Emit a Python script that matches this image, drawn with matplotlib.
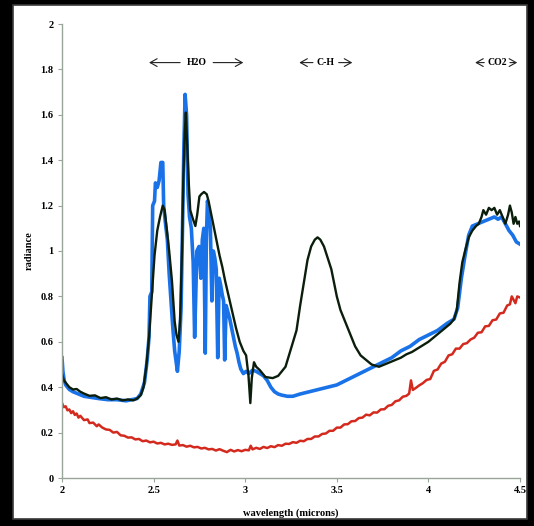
import matplotlib
matplotlib.use("Agg")
import matplotlib.pyplot as plt
from matplotlib.patches import Rectangle

# spectrum 1 (blue)
wl_blue = [2.000, 2.005, 2.012, 2.02, 2.04, 2.06, 2.09, 2.12, 2.16, 2.20, 2.25, 2.30, 2.35, 2.38,
           2.41, 2.43, 2.45, 2.465, 2.475, 2.48, 2.49, 2.495, 2.505, 2.51, 2.52, 2.53, 2.54, 2.55,
           2.555, 2.565, 2.575, 2.585, 2.595, 2.605, 2.615, 2.625, 2.63, 2.64, 2.65, 2.66, 2.665,
           2.672, 2.68, 2.688, 2.696, 2.706, 2.716, 2.724, 2.730, 2.736, 2.748, 2.758, 2.766, 2.774,
           2.782, 2.788, 2.794, 2.802, 2.810, 2.818, 2.826, 2.834, 2.842, 2.850, 2.858, 2.866, 2.874,
           2.882, 2.888, 2.896, 2.906, 2.916, 2.926, 2.936, 2.946, 2.956, 2.966, 2.976, 2.990, 3.005,
           3.02, 3.04, 3.06, 3.08, 3.10, 3.12, 3.14, 3.16, 3.18, 3.20, 3.23, 3.26, 3.30, 3.35, 3.40,
           3.45, 3.50, 3.55, 3.60, 3.65, 3.70, 3.75, 3.80, 3.85, 3.90, 3.95, 4.00, 4.05, 4.10, 4.14,
           4.16, 4.18, 4.20, 4.22, 4.24, 4.27, 4.30, 4.33, 4.36, 4.38, 4.40, 4.42, 4.44, 4.46, 4.48,
           4.50]
rad_blue = [0.53, 0.47, 0.43, 0.41, 0.39, 0.38, 0.37, 0.36, 0.355, 0.35, 0.345, 0.345, 0.34, 0.345,
            0.35, 0.37, 0.42, 0.52, 0.62, 0.80, 0.82, 1.20, 1.22, 1.30, 1.28, 1.31, 1.39, 1.39,
            1.20, 1.12, 1.05, 0.90, 0.78, 0.66, 0.56, 0.50, 0.47, 0.56, 0.75, 1.20, 1.45,
            1.69, 1.60, 1.25, 1.15, 1.10, 0.95, 0.62, 0.80, 1.00, 1.02, 0.88, 1.05, 1.10,
            0.55, 1.05, 1.22, 1.18, 1.10, 0.78, 1.00, 0.97, 0.92, 0.53, 0.88, 0.85, 0.81,
            0.78, 0.52, 0.76, 0.73, 0.70, 0.66, 0.62, 0.58, 0.55, 0.51, 0.48, 0.46, 0.47,
            0.46, 0.475, 0.47, 0.46, 0.45, 0.43, 0.40, 0.38, 0.37, 0.365, 0.36, 0.36, 0.37, 0.38, 0.39,
            0.40, 0.41, 0.43, 0.45, 0.47, 0.49, 0.51, 0.53, 0.56, 0.58, 0.61, 0.63, 0.65, 0.68, 0.70,
            0.75, 0.88, 0.98, 1.07, 1.11, 1.12, 1.13, 1.14, 1.15, 1.14, 1.15, 1.12, 1.09, 1.07, 1.04,
            1.03]

# spectrum 2 (black)
wl_black = [2.000, 2.01, 2.02, 2.04, 2.06, 2.08, 2.10, 2.12, 2.15, 2.18, 2.21, 2.24, 2.27, 2.30,
            2.33, 2.36, 2.39, 2.41, 2.43, 2.445, 2.46, 2.475, 2.49, 2.505, 2.52, 2.535, 2.55, 2.56,
            2.57, 2.585, 2.60, 2.615, 2.625, 2.636, 2.645, 2.655, 2.662, 2.67, 2.676, 2.684, 2.692,
            2.70, 2.715, 2.728, 2.738, 2.75, 2.76, 2.775, 2.79, 2.80, 2.815, 2.83, 2.845, 2.86, 2.875,
            2.89, 2.91, 2.93, 2.95, 2.97, 2.99, 3.005, 3.018, 3.028, 3.036, 3.048, 3.06, 3.08, 3.11,
            3.15, 3.18, 3.20, 3.22, 3.25, 3.28, 3.30, 3.32, 3.34, 3.36, 3.38, 3.395, 3.41, 3.43, 3.45,
            3.47, 3.50, 3.52, 3.55, 3.58, 3.60, 3.63, 3.66, 3.69, 3.73, 3.76, 3.79, 3.82, 3.85, 3.88,
            3.91, 3.94, 3.97, 4.00, 4.03, 4.06, 4.09, 4.12, 4.14, 4.155, 4.17, 4.185, 4.20, 4.22,
            4.24, 4.26, 4.275, 4.29, 4.30, 4.315, 4.33, 4.345, 4.36, 4.375, 4.39, 4.405, 4.42, 4.435,
            4.445, 4.455, 4.465, 4.475, 4.485, 4.495, 4.50]
rad_black = [0.46, 0.43, 0.42, 0.40, 0.39, 0.392, 0.38, 0.372, 0.362, 0.364, 0.352, 0.356, 0.346, 0.35,
             0.342, 0.346, 0.342, 0.35, 0.365, 0.40, 0.49, 0.62, 0.80, 0.98, 1.09, 1.15, 1.20, 1.18,
             1.11, 1.00, 0.87, 0.69, 0.63, 0.60, 0.70, 1.00, 1.31, 1.52, 1.61, 1.45, 1.30,
             1.18, 1.14, 1.11, 1.16, 1.24, 1.25, 1.26, 1.25, 1.22, 1.16, 1.10, 1.04, 0.98, 0.93,
             0.87, 0.80, 0.73, 0.66, 0.60, 0.56, 0.54, 0.45, 0.33, 0.44, 0.51, 0.49, 0.475, 0.445,
             0.44, 0.45, 0.47, 0.49, 0.57, 0.65, 0.76, 0.86, 0.96, 1.02, 1.05, 1.06, 1.05, 1.02, 0.97,
             0.92, 0.80, 0.74, 0.68, 0.62, 0.58, 0.54, 0.52, 0.50, 0.49, 0.50, 0.51, 0.52, 0.53, 0.545,
             0.555, 0.57, 0.585, 0.60, 0.62, 0.64, 0.66, 0.68, 0.70, 0.74, 0.86, 0.95, 1.00, 1.06,
             1.09, 1.11, 1.12, 1.15, 1.18, 1.16, 1.19, 1.18, 1.19, 1.16, 1.18, 1.15, 1.12, 1.16,
             1.20, 1.17, 1.12, 1.15, 1.12, 1.13, 1.11]

# spectrum 3 (red)
wl_red = [2.000, 2.01, 2.02, 2.03, 2.04, 2.05, 2.06, 2.07, 2.08, 2.09, 2.10, 2.12, 2.14, 2.15, 2.17,
          2.19, 2.20, 2.22, 2.24, 2.26, 2.28, 2.30, 2.32, 2.34, 2.36, 2.38, 2.40, 2.42, 2.44, 2.46,
          2.48, 2.50, 2.52, 2.54, 2.56, 2.58, 2.60, 2.62, 2.63, 2.64, 2.66, 2.68, 2.70, 2.72, 2.74,
          2.76, 2.78, 2.80, 2.82, 2.84, 2.86, 2.88, 2.90, 2.92, 2.94, 2.96, 2.98, 3.00, 3.02, 3.03,
          3.04, 3.06, 3.08, 3.10, 3.12, 3.14, 3.16, 3.18, 3.20, 3.22, 3.24, 3.26, 3.28, 3.30, 3.32,
          3.34, 3.36, 3.38, 3.40, 3.42, 3.44, 3.46, 3.48, 3.50, 3.52, 3.54, 3.56, 3.58, 3.60, 3.62,
          3.64, 3.66, 3.68, 3.70, 3.72, 3.74, 3.76, 3.78, 3.80, 3.82, 3.84, 3.86, 3.88, 3.895, 3.905,
          3.915, 3.93, 3.95, 3.97, 3.99, 4.01, 4.03, 4.05, 4.07, 4.09, 4.11, 4.13, 4.15, 4.17, 4.19,
          4.21, 4.23, 4.25, 4.27, 4.29, 4.31, 4.33, 4.35, 4.37, 4.39, 4.41, 4.43, 4.445, 4.455, 4.465,
          4.475, 4.485, 4.50]
rad_red = [0.33, 0.312, 0.316, 0.298, 0.302, 0.286, 0.294, 0.278, 0.284, 0.266, 0.274, 0.255, 0.258, 0.242, 0.244,
           0.228, 0.236, 0.222, 0.214, 0.212, 0.200, 0.203, 0.188, 0.186, 0.178, 0.179, 0.170, 0.172, 0.162, 0.165,
           0.157, 0.160, 0.152, 0.155, 0.148, 0.151, 0.146, 0.148, 0.165, 0.143, 0.145, 0.138, 0.142, 0.135, 0.137,
           0.130, 0.133, 0.126, 0.128, 0.121, 0.127, 0.120, 0.114, 0.124, 0.117, 0.123, 0.118, 0.124, 0.122, 0.142,
           0.126, 0.133, 0.128, 0.137, 0.132, 0.140, 0.136, 0.145, 0.142, 0.151, 0.150, 0.158, 0.155, 0.164, 0.162,
           0.172, 0.172, 0.183, 0.183, 0.194, 0.196, 0.208, 0.208, 0.222, 0.222, 0.236, 0.237, 0.250, 0.251, 0.264,
           0.266, 0.279, 0.276, 0.289, 0.288, 0.302, 0.303, 0.318, 0.322, 0.338, 0.342, 0.358, 0.362, 0.372, 0.430,
           0.388, 0.396, 0.408, 0.418, 0.432, 0.436, 0.472, 0.478, 0.504, 0.512, 0.540, 0.545, 0.570, 0.570, 0.590,
           0.594, 0.610, 0.618, 0.640, 0.642, 0.668, 0.670, 0.695, 0.698, 0.725, 0.728, 0.760, 0.765, 0.800, 0.785,
           0.770, 0.800, 0.795]

x_ticks = [2, 2.5, 3, 3.5, 4, 4.5]
x_tick_labels = ["2", "2.5", "3", "3.5", "4", "4.5"]
y_ticks = [0, 0.2, 0.4, 0.6, 0.8, 1, 1.2, 1.4, 1.6, 1.8, 2]
y_tick_labels = ["0", "0.2", "0.4", "0.6", "0.8", "1", "1.2", "1.4", "1.6", "1.8", "2"]

serif = ["Liberation Serif", "DejaVu Serif"]
axis_gray = "#9aa59a"

fig = plt.figure(figsize=(5.34, 5.26), dpi=100, facecolor="black")
# white panel inside the black frame
fig.patches.append(Rectangle((13 / 534, 7 / 526), 514 / 534, 514 / 526, transform=fig.transFigure,
                             facecolor="white", edgecolor="#3a3a3a", lw=1.2, zorder=-10))

ax = fig.add_axes([62 / 534, 48 / 526, 458 / 534, 454 / 526])
ax.set_facecolor("none")

ax.plot(wl_red, rad_red, color="#d42a1e", lw=1.8, solid_joinstyle="round")
ax.plot(wl_blue, rad_blue, color="#1a72e8", lw=2.6, solid_joinstyle="round")
ax.plot(wl_black, rad_black, color="#0b1e0b", lw=1.7, solid_joinstyle="round")

ax.set_xlim(2, 4.5)
ax.set_ylim(0, 2)
ax.set_xticks(x_ticks, x_tick_labels)
ax.set_yticks(y_ticks, y_tick_labels)
for s in ["top", "right"]:
    ax.spines[s].set_visible(False)
for s in ["left", "bottom"]:
    ax.spines[s].set_color(axis_gray)
    ax.spines[s].set_linewidth(1.0)
ax.tick_params(direction="out", length=3, width=0.8, color=axis_gray, pad=3)
for lab in ax.get_xticklabels() + ax.get_yticklabels():
    lab.set_fontfamily(serif)
    lab.set_fontweight("bold")
    lab.set_fontsize(7.5)

ax.set_xlabel("wavelength (microns)", family=serif, weight="bold", fontsize=7.5)
ax.set_ylabel("radiance", family=serif, weight="bold", fontsize=7.5)
ax.xaxis.set_label_coords(0.5, -0.068)
ax.yaxis.set_label_coords(-0.062, 0.5)

# band labels with arrows
y_band = 1.83
arrow_kw = dict(arrowstyle="->,head_length=0.5,head_width=0.28", lw=0.8, color="#222222")
bands = [("H2O", 2.735, 2.66, 2.46, 2.81, 3.005),
         ("C-H", 3.44, 3.385, 3.28, 3.495, 3.60),
         ("CO2", 4.375, 4.32, 4.24, 4.43, 4.50)]
for name, xc, l_start, l_tip, r_start, r_tip in bands:
    ax.text(xc, y_band, name, ha="center", va="center", family=serif, weight="bold", fontsize=7)
    ax.annotate("", xy=(l_tip, y_band), xytext=(l_start, y_band), arrowprops=arrow_kw,
                annotation_clip=False)
    ax.annotate("", xy=(r_tip, y_band), xytext=(r_start, y_band), arrowprops=arrow_kw,
                annotation_clip=False)

fig.savefig("out.png", dpi=100, facecolor=fig.get_facecolor())
